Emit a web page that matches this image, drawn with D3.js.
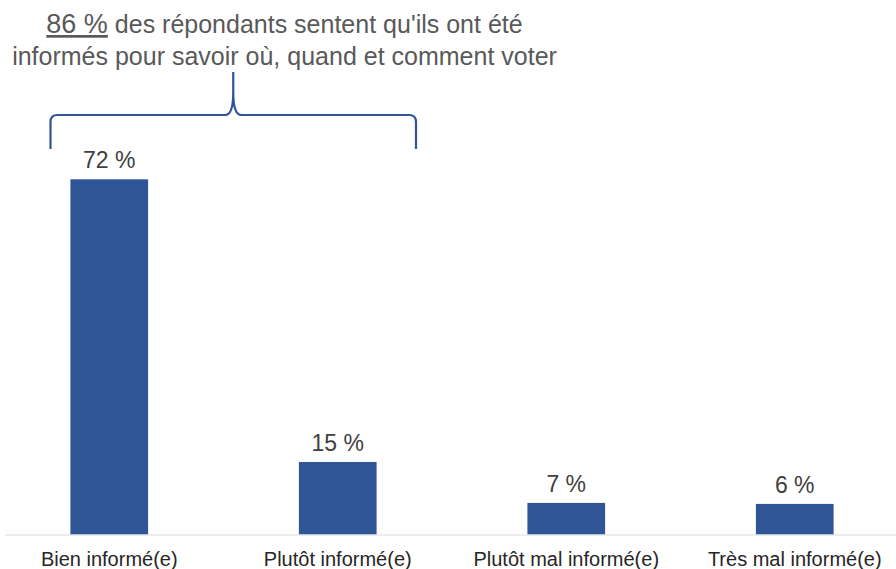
<!DOCTYPE html>
<html>
<head>
<meta charset="utf-8">
<script src="https://cdn.jsdelivr.net/npm/d3@7"></script>
<style>
  html, body { margin: 0; padding: 0; background: #fff; }
  svg { display: block; }
</style>
</head>
<body>
<svg id="chart" width="896" height="569"></svg>
<script>
const categories = ["Bien informé(e)", "Plutôt informé(e)", "Plutôt mal informé(e)", "Très mal informé(e)"];
const values = [72, 14.7, 6.4, 6.2];
const valueLabels = ["72 %", "15 %", "7 %", "6 %"];
const titleHighlight = "86 %";
const titleLine1 = " des répondants sentent qu'ils ont été";
const titleLine2 = "informés pour savoir où, quand et comment voter";

const W = 896, H = 569;
const baseline = 534.5;
const svg = d3.select("#chart");

const x = d3.scaleBand().domain(categories).range([-5, 909]).paddingInner(0.66).paddingOuter(0.33);
const y = d3.scaleLinear().domain([0, 72]).range([baseline, 179.3]);

const blue = "#2F5597";
const fontFam = "'Liberation Sans', Arial, sans-serif";

// bars
svg.append("g").selectAll("rect").data(values).join("rect")
  .attr("x", (d, i) => x(categories[i]))
  .attr("y", d => y(d))
  .attr("width", x.bandwidth())
  .attr("height", d => baseline - y(d))
  .attr("fill", blue);

// axis line
const axis = d3.axisBottom(x).tickSize(0).tickPadding(0);
const gAxis = svg.append("g").attr("transform", `translate(0,${baseline})`).call(axis);
gAxis.select(".domain").attr("d", "M5,0.5H896").attr("stroke", "#D9D9D9").attr("stroke-width", 1.2);
gAxis.selectAll(".tick text")
  .attr("y", 31)
  .attr("dy", 0)
  .attr("fill", "#262626")
  .style("font-family", fontFam)
  .style("font-size", "20px");

// value labels
svg.append("g").selectAll("text").data(values).join("text")
  .attr("x", (d, i) => x(categories[i]) + x.bandwidth() / 2)
  .attr("y", d => y(d) - 11)
  .attr("text-anchor", "middle")
  .attr("fill", "#404040")
  .style("font-family", fontFam)
  .style("font-size", "23px")
  .text((d, i) => valueLabels[i]);

// title
const title = svg.append("text")
  .attr("text-anchor", "middle")
  .attr("fill", "#595959")
  .style("font-family", fontFam)
  .style("font-size", "25px");
const t1 = title.append("tspan").attr("x", 284.5).attr("y", 33);
t1.append("tspan").attr("text-decoration", "underline").style("font-size", "27px").text(titleHighlight);
t1.append("tspan").text(titleLine1);
title.append("tspan").attr("x", 284.5).attr("y", 65).text(titleLine2);

// brace spanning first two categories
const xl = 50.5, xr = 416, yh = 115, yb = 149, tipY = 72;
const xc = (xl + xr) / 2;
const r = 7;
const bracePath = d3.path();
bracePath.moveTo(xl, yb);
bracePath.lineTo(xl, yh + r);
bracePath.quadraticCurveTo(xl, yh, xl + r, yh);
bracePath.lineTo(xc - 8, yh);
bracePath.quadraticCurveTo(xc, yh, xc, tipY + 20);
bracePath.lineTo(xc, tipY);
bracePath.moveTo(xc, tipY + 20);
bracePath.quadraticCurveTo(xc, yh, xc + 8, yh);
bracePath.lineTo(xr - r, yh);
bracePath.quadraticCurveTo(xr, yh, xr, yh + r);
bracePath.lineTo(xr, yb);
svg.append("path").attr("d", bracePath.toString())
  .attr("fill", "none").attr("stroke", blue).attr("stroke-width", 2.2)
  .attr("stroke-linejoin", "round");
</script>
</body>
</html>
